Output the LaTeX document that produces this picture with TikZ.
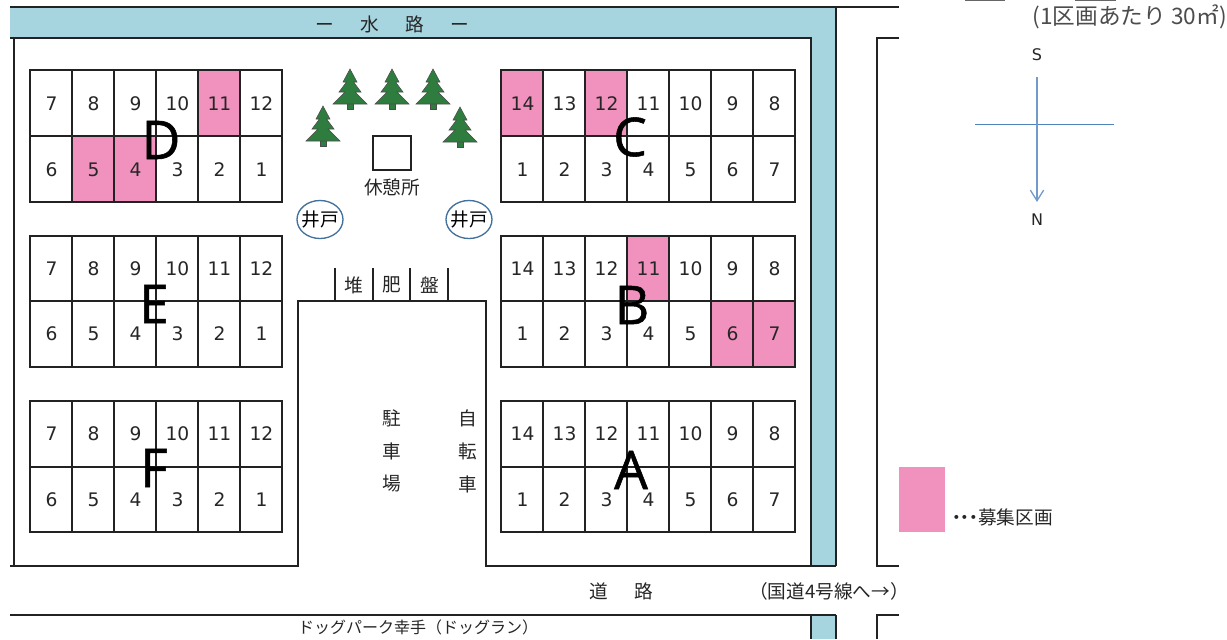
\documentclass[tikz,border=0pt]{standalone}
\usepackage{fontspec}
\setmainfont{Noto Sans CJK JP}
\newfontfamily\digitfont{DejaVu Sans}
\newfontfamily\latinfont[FakeBold=1]{Open Sans}
\usetikzlibrary{shapes.geometric,arrows.meta}
\definecolor{water}{HTML}{A6D4DF}
\definecolor{plot}{HTML}{F092BD}
\definecolor{tree}{HTML}{2E7D3F}
\definecolor{wellblue}{HTML}{41719C}
\definecolor{compass}{HTML}{4F81BD}
\definecolor{linecol}{HTML}{222222}
\tikzset{
  x=0.75pt,y=-0.75pt,
  wall/.style={draw=linecol,line width=1.1pt},
  gridline/.style={draw=linecol,line width=1pt},
  waterway/.style={fill=water,draw=none},
  numlabel/.style={inner sep=0pt,font=\digitfont\fontsize{14pt}{16pt}\selectfont,text=black!85},
  lbl/.style={inner sep=0pt,text=black!85,font=\fontsize{14pt}{16pt}\selectfont},
  blocklabel/.style={inner sep=0pt,font=\latinfont\fontsize{40pt}{40pt}\selectfont,text=black},
  wellnode/.style={ellipse,draw=wellblue,line width=1pt,fill=white,minimum width=34.5pt,minimum height=28.5pt,inner sep=0pt,font=\fontsize{14pt}{16pt}\selectfont},
  pinetree/.style={fill=tree,draw=black!70,line width=.4pt}
}
\newcommand{\pine}[2]{%
  \begin{scope}[shift={(#1,#2)}]
    \fill[pinetree] (-3,30) -- (3,30) -- (3,40) -- (-3,40) -- cycle;
    \filldraw[pinetree] (0,0) -- (7,13) -- (3.5,13) -- (11,23) -- (5,23) -- (17,35) -- (-17,35) -- (-5,23) -- (-11,23) -- (-3.5,13) -- (-7,13) -- cycle;
  \end{scope}}
\newcommand{\ldot}{\makebox[6.4pt][c]{・}}
\begin{document}
\begin{tikzpicture}
\useasboundingbox (0,0) rectangle (1227,639);
% water
\fill[waterway] (10,7) rectangle (836,38);
\fill[waterway] (811,7) rectangle (836,566);
\fill[waterway] (811,615) rectangle (836,639);
% walls
\draw[wall] (10,7) -- (899,7);
\draw[wall] (10,38) -- (811,38) -- (811,566);
\draw[wall] (836,7) -- (836,566);
\draw[wall] (14,38) -- (14,566);
\draw[wall] (10,566) -- (298,566) -- (298,301) -- (486,301) -- (486,566) -- (836,566);
\draw[wall] (899,38) -- (877,38) -- (877,566) -- (899,566);
\draw[wall] (10,615) -- (836,615);
\draw[wall] (811,615) -- (811,639);
\draw[wall] (836,615) -- (836,639);
\draw[wall] (899,615) -- (877,615) -- (877,639);
\foreach \xx in {335,373,410,448} \draw[wall] (\xx,268) -- (\xx,301);
\node[lbl] (ww) at (392,24) {ー\hspace{19.7pt}水\hspace{19.7pt}路\hspace{19.7pt}ー};
% pink
\foreach \xa/\ya/\xb/\yb in {198/70/240/136,72/136/156/202,501/70/543/136,585/70/627/136,627/236/669/301,711/301/795/367}
  \fill[plot] (\xa,\ya) rectangle (\xb,\yb);
% grids
\foreach \xa/\xb/\ya/\ym/\yb/\nc in {30/282/70/136/202/6,30/282/236/301/367/6,30/282/401/467/532/6,501/795/70/136/202/7,501/795/236/301/367/7,501/795/401/467/532/7}{
  \draw[gridline] (\xa,\ya) rectangle (\xb,\yb);
  \draw[gridline] (\xa,\ym) -- (\xb,\ym);
  \pgfmathtruncatemacro{\last}{\nc-1}
  \foreach \k in {1,...,\last} \draw[gridline] ({\xa+\k*42},\ya) -- ({\xa+\k*42},\yb);
}
% numbers
\foreach \blk/\ya/\yb in {D/103.5/169.5,E/268.5/334,F/433.5/499.5}{
  \foreach \n [count=\i from 0] in {7,8,9,10,11,12}
    \node[numlabel] (\blk t\n) at ({51.5+\i*42},\ya) {\n};
  \foreach \n [count=\i from 0] in {6,5,4,3,2,1}
    \node[numlabel] (\blk b\n) at ({51.5+\i*42},\yb) {\n};
}
\foreach \blk/\ya/\yb in {C/103.5/169.5,B/268.5/334,A/433.5/499.5}{
  \foreach \n [count=\i from 0] in {14,13,12,11,10,9,8}
    \node[numlabel] (\blk t\n) at ({522.5+\i*42},\ya) {\n};
  \foreach \n [count=\i from 0] in {1,2,3,4,5,6,7}
    \node[numlabel] (\blk b\n) at ({522.5+\i*42},\yb) {\n};
}
% block letters
\node[blocklabel] (lD) at (161,140) {D};
\node[blocklabel] (lC) at (630,137) {C};
\node[blocklabel] (lE) at (154,304) {E};
\node[blocklabel] (lB) at (632,305) {B};
\node[blocklabel] (lF) at (154,468) {F};
\node[blocklabel] (lA) at (631,470) {A};
% trees
\pine{350}{69}
\pine{392}{69}
\pine{433}{69}
\pine{323}{106}
\pine{460}{107}
% rest house
\node[draw=linecol,line width=1pt,minimum width=28.5pt,minimum height=25.5pt,inner sep=0pt] (rest) at (392,153) {};
\node[lbl] (restl) at (392,187) {休憩所};
\node[wellnode] (w1) at (320,219.5) {\makebox[0pt]{井戸}};
\node[wellnode] (w2) at (469,219.5) {\makebox[0pt]{井戸}};
\node[lbl] (c1) at (354,285) {堆};
\node[lbl] (c2) at (392,285) {肥};
\node[lbl] (c3) at (430,285) {盤};
\foreach \c/\xx/\yy in {駐/392/418,車/392/451,場/392/484,自/468/418,転/468/451,車/468/484}
  \node[lbl] at (\xx,\yy) {\c};
\node[lbl] (road) at (621,591) {道\hspace{19.7pt}路};
\node[lbl] (nat) at (829,591) {（国道4号線へ→）};
\node[lbl,font=\fontsize{12pt}{14pt}\selectfont] (dog) at (418,627) {ドッグパーク幸手（ドッグラン）};
% legend
\fill[plot] (899,467) rectangle (945,532);
\node[lbl,anchor=east] (leg) at (1053,517) {\ldot\ldot\ldot 募集区画};
% compass
\coordinate (ns) at (1037,77);
\coordinate (nn) at (1037,202);
\coordinate (ew) at (975,124);
\coordinate (ee) at (1114,124);
\draw[compass,line width=.6pt] (ew) -- (ee);
\draw[compass!80,line width=1pt,-{Straight Barb[length=8pt,width=10pt]}] (ns) -- (nn);
\node[numlabel,font=\digitfont\fontsize{12pt}{14pt}\selectfont] (S) at (1037,55) {S};
\node[numlabel,font=\digitfont\fontsize{12pt}{14pt}\selectfont] (N) at (1037,220) {N};
\node[inner sep=0pt,anchor=east,text=black!70,font=\fontsize{17pt}{19pt}\selectfont] (area) at (1227,17) {(1区画あたり 30㎡)};
% cut-off text strokes at the top edge
\draw[black!60,line width=1pt] (965,0.5) -- (1005,0.5) (1075,0.5) -- (1116,0.5);
\end{tikzpicture}
\end{document}
